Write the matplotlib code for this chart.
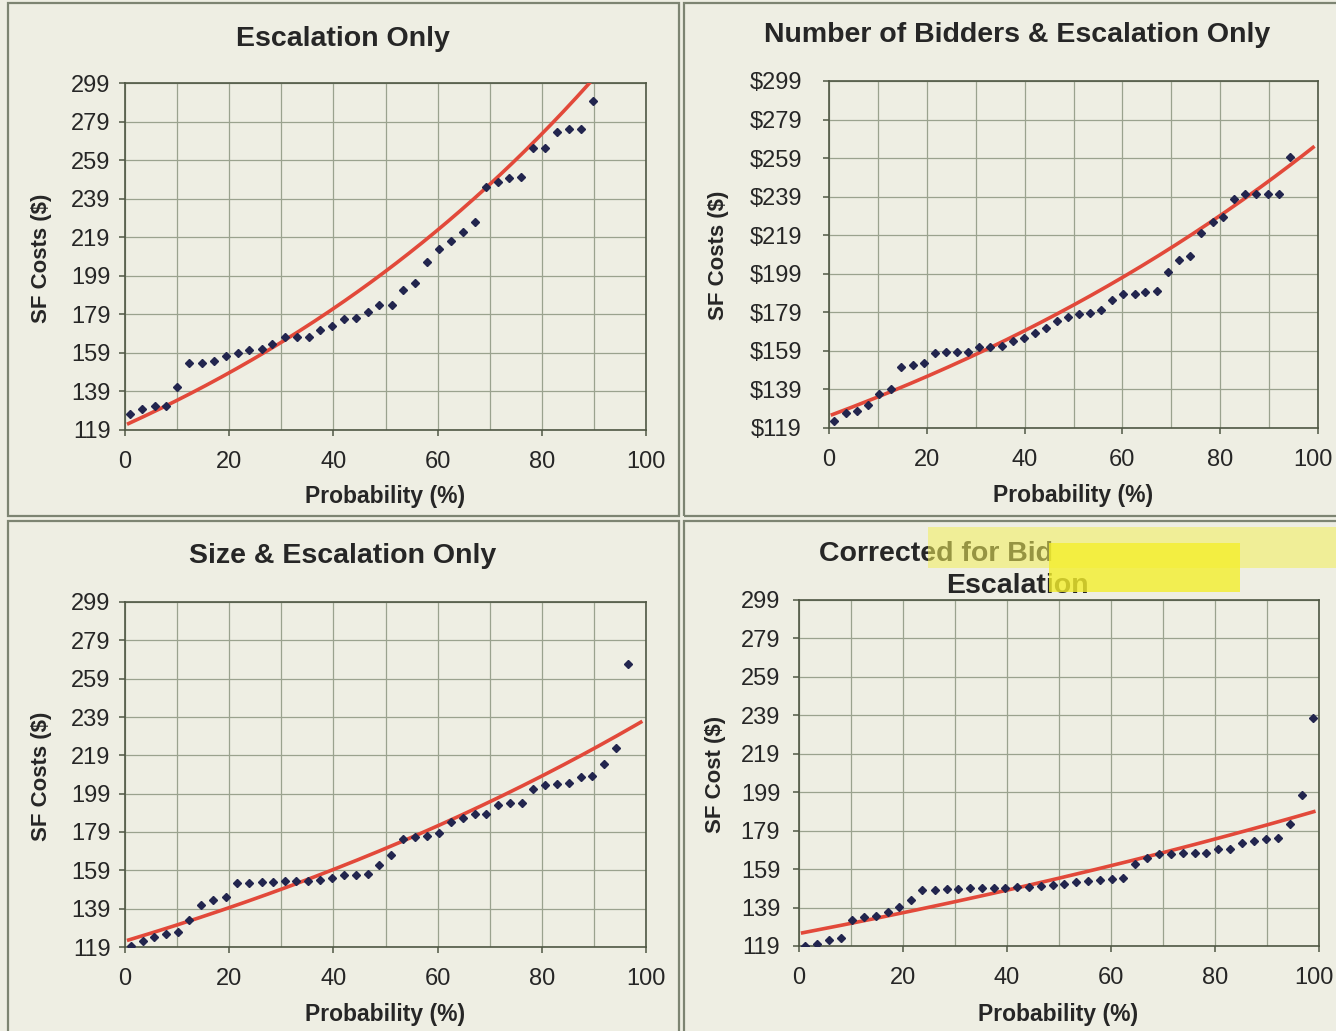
import matplotlib
matplotlib.use("Agg")
import matplotlib.pyplot as plt
from matplotlib.patches import Rectangle
from matplotlib.transforms import ScaledTranslation
import numpy as np

# ---------------- data ----------------
x_esc = [1.0, 3.3, 5.7, 7.9, 10.0, 12.3, 14.7, 17.0, 19.3, 21.6,
         23.8, 26.2, 28.3, 30.7, 33.0, 35.3, 37.5, 39.8, 42.1, 44.3,
         46.7, 48.8, 51.2, 53.4, 55.7, 57.9, 60.2, 62.5, 64.8, 67.1,
         69.3, 71.6, 73.8, 76.1, 78.4, 80.7, 82.9, 85.2, 87.5, 89.8]
y_esc = [127.1, 130.0, 131.4, 131.2, 141.4, 153.5, 153.5, 154.7, 157.3, 159.0,
         160.4, 161.1, 163.7, 167.0, 167.0, 167.0, 170.8, 173.2, 176.8, 177.2,
         180.4, 184.1, 184.1, 191.5, 195.3, 206.2, 212.9, 217.0, 221.9, 226.9,
         245.0, 247.6, 249.6, 250.0, 265.2, 265.5, 273.8, 275.2, 275.2, 289.9]

x_bid = [1.1, 3.4, 5.7, 8.0, 10.3, 12.6, 14.8, 17.1, 19.4, 21.7,
         23.9, 26.2, 28.5, 30.7, 33.0, 35.3, 37.6, 39.8, 42.1, 44.4,
         46.6, 48.8, 51.2, 53.4, 55.7, 57.9, 60.2, 62.5, 64.7, 67.0,
         69.3, 71.5, 73.8, 76.1, 78.5, 80.6, 82.9, 85.1, 87.4, 89.8,
         92.1, 94.3]
y_bid = [122.5, 126.8, 127.6, 130.9, 136.6, 139.4, 150.6, 151.8, 152.5, 157.7,
         158.6, 158.6, 158.6, 160.8, 160.8, 161.5, 164.1, 165.5, 168.4, 170.8,
         174.6, 176.7, 178.1, 178.4, 180.3, 185.5, 188.3, 188.3, 189.8, 190.2,
         200.0, 206.2, 208.3, 220.2, 225.6, 228.5, 237.7, 240.3, 240.3, 240.3,
         240.3, 259.6]

x_size = [1.1, 3.4, 5.6, 7.9, 10.1, 12.3, 14.6, 16.9, 19.3, 21.5,
          23.8, 26.2, 28.4, 30.7, 32.9, 35.2, 37.5, 39.7, 42.0, 44.3,
          46.6, 48.8, 51.0, 53.4, 55.6, 58.0, 60.2, 62.5, 64.8, 67.1,
          69.3, 71.6, 73.9, 76.2, 78.4, 80.6, 83.0, 85.3, 87.5, 89.7,
          92.0, 94.3, 96.6]
y_size = [119.3, 122.3, 124.0, 125.6, 126.6, 133.2, 140.8, 143.3, 145.0, 152.3,
          152.6, 152.8, 152.8, 153.5, 153.5, 153.5, 154.0, 154.9, 156.6, 156.6,
          157.1, 161.8, 167.0, 175.5, 176.2, 176.9, 178.3, 184.0, 186.4, 188.5,
          188.5, 193.0, 194.2, 194.2, 201.6, 203.4, 204.2, 204.6, 207.5, 208.2,
          214.5, 222.8, 266.6]

x_cor = [1.1, 3.4, 5.8, 8.0, 10.2, 12.5, 14.8, 17.1, 19.3, 21.5,
         23.7, 26.1, 28.4, 30.6, 32.9, 35.2, 37.5, 39.7, 41.9, 44.2,
         46.5, 48.8, 51.0, 53.3, 55.6, 57.9, 60.1, 62.4, 64.7, 67.0,
         69.2, 71.5, 73.8, 76.1, 78.3, 80.6, 82.9, 85.2, 87.5, 89.8,
         92.1, 94.4, 96.7, 98.9]
y_cor = [119.2, 119.9, 122.3, 123.0, 132.3, 133.9, 134.7, 136.8, 139.4, 142.7,
         147.9, 148.2, 148.6, 148.6, 149.1, 149.1, 149.3, 149.3, 149.8, 149.8,
         150.2, 150.5, 151.4, 152.1, 152.7, 153.3, 154.0, 154.2, 161.9, 165.0,
         166.8, 166.8, 167.5, 167.5, 167.5, 169.7, 169.7, 172.8, 173.7, 174.9,
         175.4, 182.5, 197.6, 237.4]

# exponential trend lines y = a * exp(b * x), parameters
trend_a = [121.5, 125.3, 122.1, 125.5]
trend_b = [0.0101, 0.00755, 0.00667, 0.00413]
trend_range = [0.7, 99.0]

y_ticks = [119, 139, 159, 179, 199, 219, 239, 259, 279, 299]
x_ticks = [0, 20, 40, 60, 80, 100]
titles = ["Escalation Only", "Number of Bidders & Escalation Only",
          "Size & Escalation Only"]
title4_line1 = "Corrected for Bid"
title4_line2 = "Escalation"
x_label = "Probability (%)"
y_labels = ["SF Costs ($)", "SF Costs ($)", "SF Costs ($)", "SF Cost ($)"]

# ---------------- style ----------------
W, H = 1336, 1031
BG = "#eeeee3"
GRID = "#9aa28e"
SPINE = "#4f5744"
MARK = "#22254e"
RED = "#e2493a"
TXT = "#262626"
plt.rcParams['font.family'] = ['Liberation Sans', 'DejaVu Sans']

fig = plt.figure(figsize=(W / 100, H / 100), dpi=100, facecolor=BG)


def fx(px):
    return px / W


def fy(py):
    return 1 - py / H


# panel borders
for (x0, y0, x1, y1) in [(8, 3, 679, 516), (684, 3, 1340, 516),
                         (8, 521, 679, 1035), (684, 521, 1340, 1035)]:
    fig.patches.append(Rectangle((fx(x0), fy(y1)), fx(x1 - x0), (y1 - y0) / H,
                                 transform=fig.transFigure, fill=False,
                                 edgecolor="#7d8472", linewidth=1.6))

# axes boxes in pixels: left, top, right, bottom
boxes = [(125, 83, 646, 430), (829, 81, 1318, 428),
         (125, 602, 646, 947), (799, 600, 1319, 946)]
ypads = [6, 15, 6, 9]
datasets = [(x_esc, y_esc), (x_bid, y_bid), (x_size, y_size), (x_cor, y_cor)]

for i, ((l, t, r, b), (xs, ys)) in enumerate(zip(boxes, datasets)):
    ax = fig.add_axes([fx(l), fy(b), (r - l) / W, (b - t) / H])
    ax.set_facecolor(BG)
    ax.set_xlim(0, 100)
    ax.set_ylim(119, 299)
    ax.set_xticks(x_ticks)
    ax.set_xticks(np.arange(0, 101, 10), minor=True)
    ax.set_yticks(y_ticks)
    if i == 1:
        ax.set_yticklabels(["$%d" % v for v in y_ticks])
    ax.grid(True, which="both", axis="x", color=GRID, linewidth=0.9)
    ax.grid(True, which="major", axis="y", color=GRID, linewidth=0.9)
    ax.set_axisbelow(True)
    for s in ax.spines.values():
        s.set_color(SPINE)
        s.set_linewidth(1.2)
    ax.tick_params(axis="both", which="major", direction="out", length=4.5,
                   width=1.1, color=SPINE, labelsize=17, labelcolor=TXT)
    ax.tick_params(axis="x", which="major", pad=10.5)
    ax.tick_params(axis="y", which="major", pad=ypads[i])
    ax.tick_params(axis="x", which="minor", length=0)

    # right-hand panels: keep the "100" label inside the image
    if i in (1, 3):
        lab = ax.get_xticklabels()[-1]
        lab.set_transform(lab.get_transform() +
                          ScaledTranslation(-5 / 100, 0, fig.dpi_scale_trans))

    xt = np.linspace(trend_range[0], trend_range[1], 200)
    ax.plot(xt, trend_a[i] * np.exp(trend_b[i] * xt), color=RED, lw=2.6,
            zorder=3)
    ax.plot(xs, ys, linestyle="none", marker="D", markersize=4.3,
            color=MARK, zorder=4)

    # labels
    cx = [385, 1073, 385, 1058][i]
    cy = [497, 495, 1015, 1015][i]
    fig.text(fx(cx), fy(cy), x_label, ha="center", va="center",
             fontsize=16.5, fontweight="bold", color=TXT)
    lx = [42, 718, 42, 716][i]
    ly = [258, 255, 776, 774][i]
    fig.text(fx(lx), fy(ly), y_labels[i], ha="center", va="center",
             rotation=90, fontsize=16, fontweight="bold", color=TXT)

# titles
fig.text(fx(343), fy(39), titles[0], ha="center", va="center",
         fontsize=20.5, fontweight="bold", color=TXT)
fig.text(fx(1017), fy(35), titles[1], ha="center", va="center",
         fontsize=20.5, fontweight="bold", color=TXT)
fig.text(fx(343), fy(556), titles[2], ha="center", va="center",
         fontsize=20.5, fontweight="bold", color=TXT)
fig.text(fx(819), fy(554), title4_line1, ha="left", va="center",
         fontsize=20.5, fontweight="bold", color=TXT)
fig.text(fx(1017), fy(586), title4_line2, ha="center", va="center",
         fontsize=20.5, fontweight="bold", color=TXT)

# highlighter marks over the last title
fig.patches.append(Rectangle((fx(928), fy(568)), fx(1336 - 928), 41 / H,
                             transform=fig.transFigure, facecolor="#f3ef5a",
                             edgecolor="none", alpha=0.55, zorder=5))
fig.patches.append(Rectangle((fx(1049), fy(592)), fx(1240 - 1049), 49 / H,
                             transform=fig.transFigure, facecolor="#f4ee2c",
                             edgecolor="none", alpha=0.8, zorder=6))

fig.savefig("out.png", dpi=100, facecolor=BG)
